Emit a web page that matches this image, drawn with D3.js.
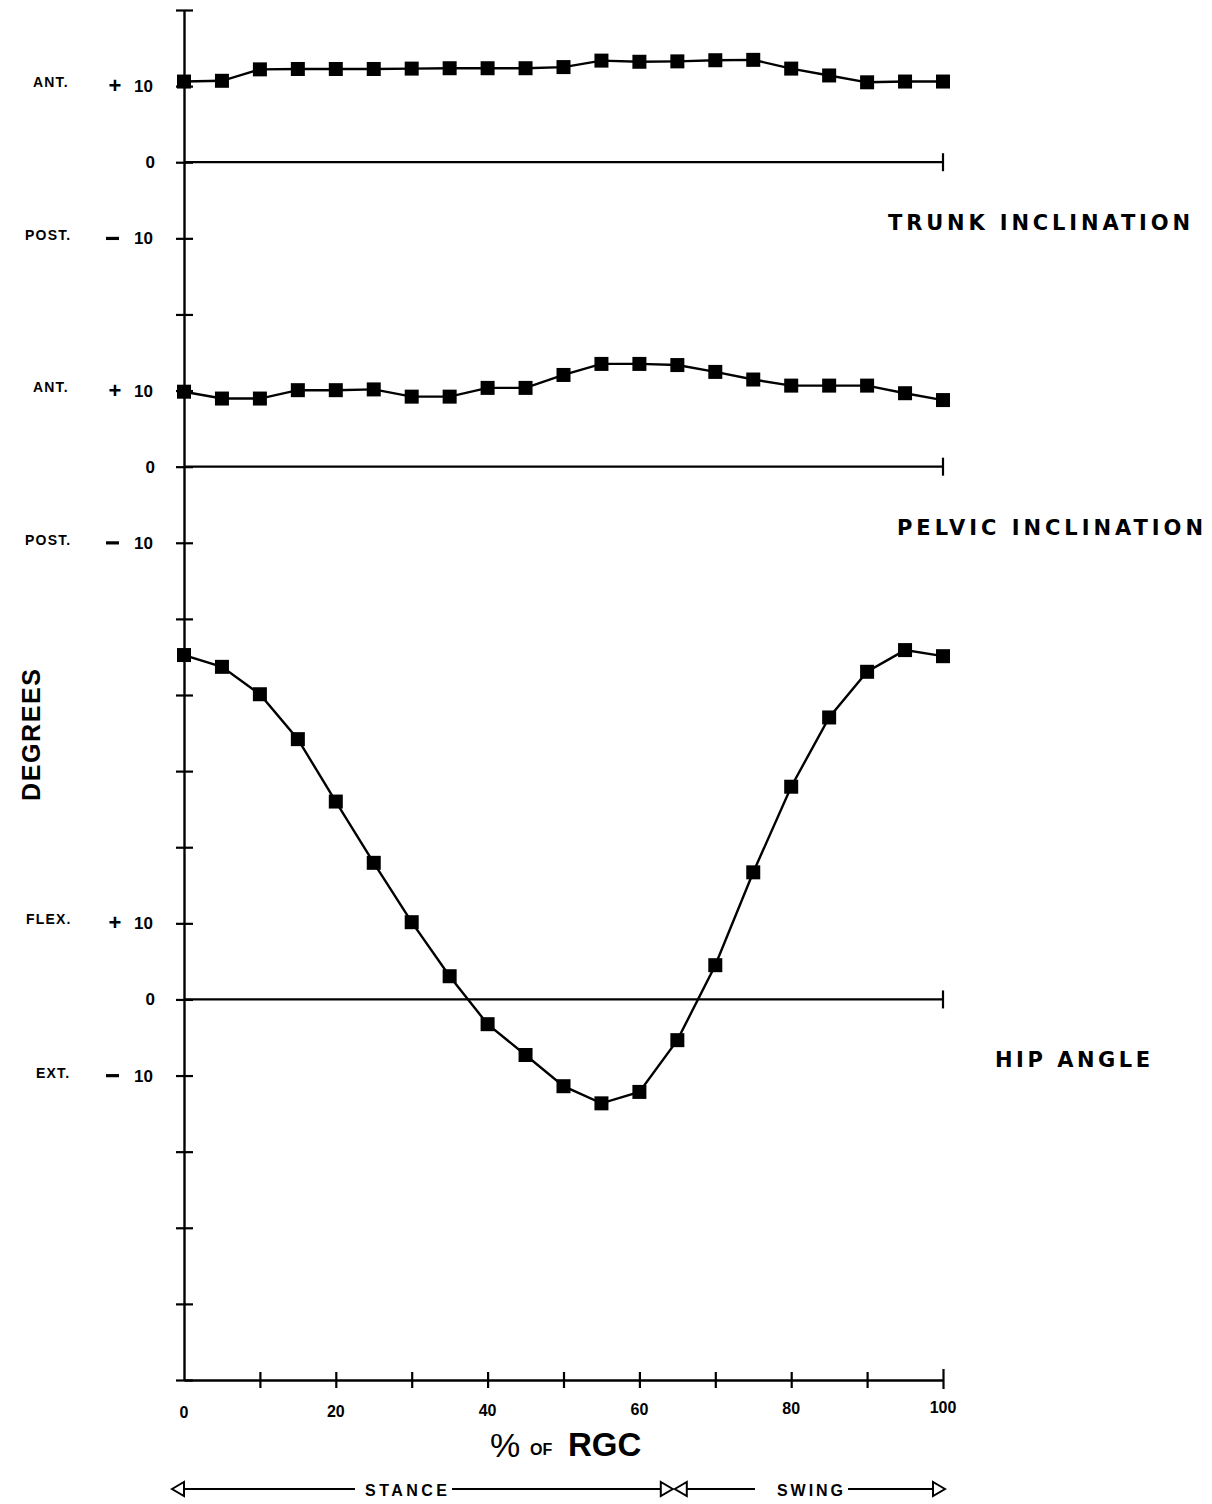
<!DOCTYPE html>
<html><head><meta charset="utf-8">
<script src="https://cdn.jsdelivr.net/npm/d3@7/dist/d3.min.js"></script>
<style>html,body{margin:0;padding:0;background:#fff;}svg{display:block;}</style>
</head><body>
<script>
// ---- data ----
const pctRGC = [0,5,10,15,20,25,30,35,40,45,50,55,60,65,70,75,80,85,90,95,100];
const trunkInclination = [10.6,10.7,12.2,12.25,12.25,12.25,12.3,12.35,12.35,12.35,12.5,13.35,13.2,13.25,13.4,13.45,12.3,11.4,10.5,10.6,10.6];
const pelvicInclination = [9.85,8.95,8.95,10.05,10.05,10.15,9.2,9.2,10.35,10.35,12.05,13.5,13.5,13.35,12.45,11.45,10.65,10.65,10.65,9.65,8.75];
const hipAngle = [45.25,43.7,40.1,34.2,26.0,17.95,10.15,3.05,-3.25,-7.3,-11.4,-13.65,-12.15,-5.35,4.5,16.7,27.95,37.05,43.05,45.9,45.1];
const xTickLabels = ["0","20","40","60","80","100"];
const xTickValues = [0,20,40,60,80,100];
const panelTitles = ["TRUNK INCLINATION","PELVIC INCLINATION","HIP ANGLE"];
const posLabels = ["ANT.","ANT.","FLEX."];
const negLabels = ["POST.","POST.","EXT."];
const phases = [{label:"STANCE", from:0, to:64.4},{label:"SWING", from:64.4, to:100}];

// ---- layout ----
const W = 1212, H = 1504;
const svg = d3.select("body").append("svg").attr("width",W).attr("height",H);
const FONT = "'Liberation Sans', Arial, Helvetica, sans-serif";
const TFONT = "'DejaVu Sans', 'Liberation Sans', sans-serif";

const x = d3.scaleLinear().domain([0,100]).range([184,943]);
// one shared degree scale; each panel is placed with its own zero offset
const y = d3.scaleLinear().domain([-50,130]).range([1380,10]);
const panels = [
  {offset:110, values:trunkInclination, title:panelTitles[0], pos:posLabels[0], neg:negLabels[0], titleX:888, titleW:302},
  {offset:70,  values:pelvicInclination, title:panelTitles[1], pos:posLabels[1], neg:negLabels[1], titleX:897, titleW:306},
  {offset:0,   values:hipAngle, title:panelTitles[2], pos:posLabels[2], neg:negLabels[2], titleX:995, titleW:155}
];

const g = svg.append("g");

// y axis with crossing ticks
const yAxis = d3.axisLeft(y).tickValues(d3.range(-50,131,10)).tickSize(0).tickFormat("");
const ya = g.append("g").attr("transform","translate(184,0)").call(yAxis);
ya.select(".domain").attr("stroke","#000").attr("stroke-width",2.4);
ya.selectAll(".tick").append("line").attr("x1",-8).attr("x2",9).attr("stroke","#000").attr("stroke-width",2.2);

// x axis with crossing ticks
const xAxis = d3.axisBottom(x).tickValues(d3.range(10,101,10)).tickSize(0).tickFormat("");
const xa = g.append("g").attr("transform",`translate(0,${y(-50)})`).call(xAxis);
xa.select(".domain").attr("stroke","#000").attr("stroke-width",2.4);
xa.selectAll(".tick").append("line").attr("y1",-8).attr("y2",8).attr("stroke","#000").attr("stroke-width",2.2);
xa.selectAll(".tick").filter(d=>d===100).select("line:last-child").attr("y1",-11).attr("y2",9);

// x tick labels
g.selectAll(".xlab").data(xTickValues).enter().append("text")
  .attr("x",d=>x(d)).attr("y",(d,i)=>1418 - i*1)
  .attr("text-anchor","middle").attr("font-family",FONT).attr("font-weight","bold")
  .attr("font-size",16).text((d,i)=>xTickLabels[i]);

// panels
const line = d3.line();
panels.forEach(p=>{
  const yz = y(p.offset);
  // zero line with end tick
  g.append("line").attr("x1",x(0)).attr("x2",x(100)).attr("y1",yz).attr("y2",yz)
    .attr("stroke","#000").attr("stroke-width",2.2);
  g.append("line").attr("x1",x(100)).attr("x2",x(100)).attr("y1",yz-9).attr("y2",yz+9)
    .attr("stroke","#000").attr("stroke-width",2.2);
  // y labels
  const lab = (txt,yy,xx,anchor,size)=>g.append("text").attr("x",xx).attr("y",yy)
    .attr("text-anchor",anchor).attr("font-family",FONT).attr("font-weight","bold")
    .attr("font-size",size).text(txt);
  lab("10", y(p.offset+10)+6, 153, "end", 17);
  lab("+", y(p.offset+10)+7, 115, "middle", 22);
  lab("0", yz+6, 155, "end", 17);
  lab("10", y(p.offset-10)+6, 153, "end", 17);
  g.append("rect").attr("x",106).attr("y",y(p.offset-10)-1.5).attr("width",13).attr("height",3.2).attr("fill","#000");
  lab(p.pos, y(p.offset+10)+1, p.pos==="FLEX."?26:33, "start", 14).attr("letter-spacing",1.2);
  lab(p.neg, y(p.offset-10)+2, p.neg==="EXT."?36:25, "start", 14).attr("letter-spacing",1.2);
  // title
  g.append("text").attr("x",p.titleX).attr("y",y(p.offset)+68)
    .attr("font-family",TFONT).attr("font-weight","bold").attr("font-size",21)
    .attr("textLength",p.titleW).attr("lengthAdjust","spacing").text(p.title);
  // series
  const pts = pctRGC.map((d,i)=>[x(d), y(p.offset + p.values[i])]);
  g.append("path").attr("d",line(pts)).attr("fill","none").attr("stroke","#000").attr("stroke-width",2.4);
  g.selectAll(null).data(pts).enter().append("rect")
    .attr("x",d=>d[0]-7).attr("y",d=>d[1]-7).attr("width",14).attr("height",14).attr("fill","#000");
});

// DEGREES label
g.append("text").attr("transform","translate(40,735) rotate(-90)")
  .attr("text-anchor","middle").attr("font-family",FONT).attr("font-weight","bold")
  .attr("font-size",25).attr("textLength",132).attr("lengthAdjust","spacing").text("DEGREES");

// x axis title
g.append("text").attr("x",490).attr("y",1457).attr("font-family",FONT).attr("font-size",34).text("%");
g.append("text").attr("x",530).attr("y",1455).attr("font-family",FONT).attr("font-weight","bold").attr("font-size",16).text("OF");
g.append("text").attr("x",568).attr("y",1456).attr("font-family",FONT).attr("font-weight","bold").attr("font-size",33).text("RGC");

// stance / swing arrows
const ay = 1489;
const stroke = (x1,x2)=>g.append("line").attr("x1",x1).attr("x2",x2).attr("y1",ay).attr("y2",ay).attr("stroke","#000").attr("stroke-width",2.2);
const head = (tip,dir)=>g.append("path")
  .attr("d",`M${tip},${ay} L${tip-dir*12},${ay-7} L${tip-dir*12},${ay+7} Z`)
  .attr("fill","#fff").attr("stroke","#000").attr("stroke-width",2);
phases.forEach((ph,i)=>{
  const left = i===0 ? x(ph.from)-12 : x(ph.from)+2;
  const right = i===0 ? x(ph.to) : x(ph.to)+2;
  const tx = i===0 ? 406 : 810;
  const half = i===0 ? 41 : 33;
  g.append("text").attr("x",tx-half).attr("y",ay+7).attr("font-family",FONT)
    .attr("font-weight","bold").attr("font-size",16).attr("textLength",half*2)
    .attr("lengthAdjust","spacing").text(ph.label);
  stroke(left+12, i===0 ? tx-half-10 : tx-half-22);
  stroke(tx+half+5, right-12);
  head(left,-1);
  head(right,1);
});
</script>
</body></html>
